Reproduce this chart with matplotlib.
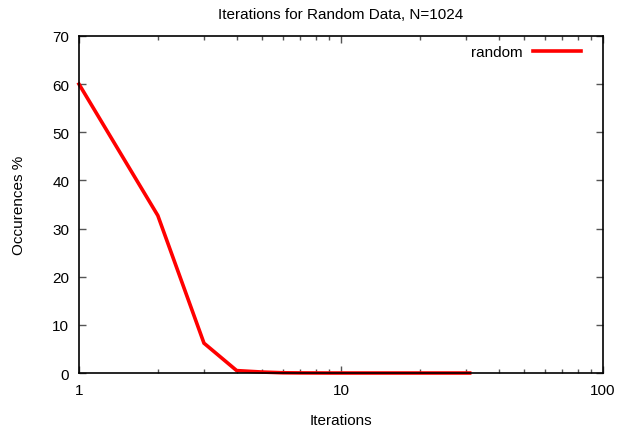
import matplotlib
matplotlib.use("Agg")
import matplotlib.pyplot as plt
from matplotlib.ticker import LogLocator, FixedLocator, NullFormatter

plt.rcParams['font.family'] = ['Liberation Sans', 'DejaVu Sans']

iterations = [1, 2, 3, 4, 5, 6, 7, 8, 9, 10, 12, 15, 20, 25, 31]
occurrences = [60.0, 32.7, 6.2, 0.5, 0.2, 0.05, 0.02, 0.01, 0.0, 0.0, 0.0, 0.0, 0.0, 0.0, 0.0]
series_label = "random"
title = "Iterations for Random Data, N=1024"
x_ticks = [1, 10, 100]
x_tick_labels = ["1", "10", "100"]
y_ticks = [0, 10, 20, 30, 40, 50, 60, 70]

fig = plt.figure(figsize=(6.19, 4.35), dpi=100)
ax = fig.add_axes([0.1276, 0.1402, 0.974 - 0.1276, 0.915 - 0.1402])

ax.plot(iterations, occurrences, color='#ff0000', lw=2.6, label=series_label,
        solid_joinstyle='miter', clip_on=False)
ax.set_xscale('log')
ax.set_xlim(1, 100)
ax.set_ylim(0, 70)
ax.xaxis.set_major_locator(FixedLocator(x_ticks))
ax.set_xticklabels(x_tick_labels)
ax.xaxis.set_minor_locator(LogLocator(base=10, subs=range(2, 10)))
ax.xaxis.set_minor_formatter(NullFormatter())
ax.set_yticks(y_ticks)

ax.tick_params(which='both', direction='in', top=True, right=True, labelsize=11,
               color='#555555', width=1)
ax.tick_params(which='major', length=5, pad=7)
ax.tick_params(which='minor', length=3)
for s in ax.spines.values():
    s.set_linewidth(1.2)
    s.set_color('black')

ax.set_xlabel("Iterations", fontsize=11, labelpad=12)
ax.set_ylabel("Occurences %", fontsize=11, labelpad=19)
ax.set_title(title, fontsize=11, pad=13)

ax.legend(loc='upper right', frameon=False, markerfirst=False, fontsize=11,
          handlelength=3.1, borderaxespad=0.0, handletextpad=0.7,
          bbox_to_anchor=(1 - 16 / 524, 1 - 3 / 337))

fig.savefig("out.png", dpi=100)
